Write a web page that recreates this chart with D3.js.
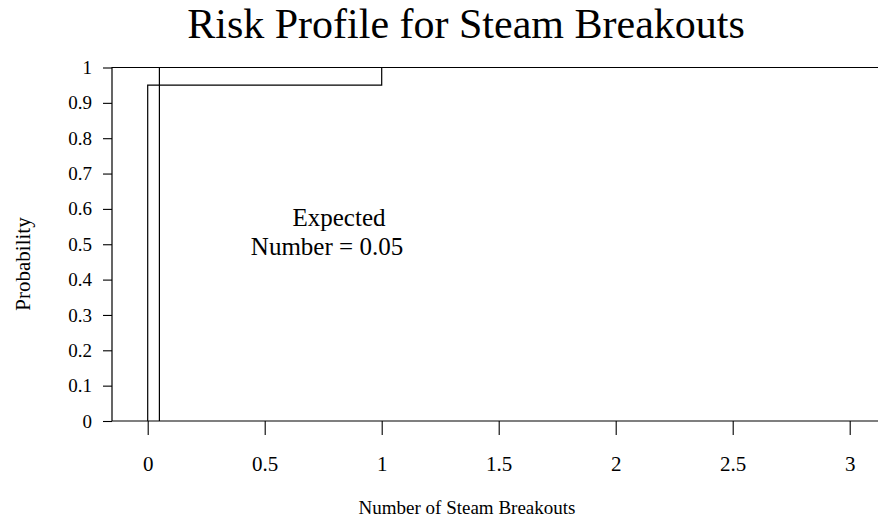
<!DOCTYPE html>
<html><head><meta charset="utf-8">
<script src="https://cdn.jsdelivr.net/npm/d3@7"></script>
<style>
html,body{margin:0;padding:0;background:#fff;}
text{font-family:"Liberation Serif","Times New Roman",serif;fill:#000;}
</style></head>
<body><svg id="c" width="878" height="519"></svg>
<script>
const title = "Risk Profile for Steam Breakouts";
const xLabel = "Number of Steam Breakouts";
const yLabel = "Probability";
const xTicks = [0, 0.5, 1, 1.5, 2, 2.5, 3];
const yTicks = [0, 0.1, 0.2, 0.3, 0.4, 0.5, 0.6, 0.7, 0.8, 0.9, 1];
// cumulative risk profile (step): breakouts, cumulative probability
const stepX = [0, 0, 1, 1, 3.2];
const stepY = [0, 0.95, 0.95, 1, 1];
const expectedValue = 0.05;
const annotation = ["Expected", "Number = 0.05"];

const svg = d3.select("#c");
const x = d3.scaleLinear().domain([0, 3]).range([147.7, 849.7]);
const y = d3.scaleLinear().domain([0, 1]).range([421, 67.5]);
const xMin = x.invert(112), xMax = 3.3;

svg.append("text").attr("x", 466).attr("y", 38).attr("text-anchor", "middle")
  .style("font-size", "42px").text(title);

const g = svg.append("g");
// frame: left, top and bottom
g.append("path")
  .attr("d", `M${x(xMax)},${y(1)}H${x(xMin)}V${y(0)}H${x(xMax)}`)
  .attr("fill", "none").attr("stroke", "#000").attr("stroke-width", 1.2);

// y axis
const yAx = g.append("g").attr("transform", `translate(${x(xMin)},0)`)
  .call(d3.axisLeft(y).tickValues(yTicks).tickSize(9).tickPadding(11)
        .tickFormat(d => d3.format("~g")(d)));
yAx.select(".domain").remove();
yAx.selectAll("line").attr("stroke-width", 1.1);
yAx.selectAll("text").style("font-size", "19px").style("font-family", "Liberation Serif");

// x axis
const xAx = g.append("g").attr("transform", `translate(0,${y(0)})`)
  .call(d3.axisBottom(x).tickValues(xTicks).tickSize(14).tickPadding(21)
        .tickFormat(d => d3.format("~g")(d)));
xAx.select(".domain").remove();
xAx.selectAll("line").attr("stroke-width", 1.1);
xAx.selectAll("text").style("font-size", "21px").style("font-family", "Liberation Serif");

// step line
const pts = stepX.map((v, i) => [x(v), y(stepY[i])]);
g.append("path").attr("d", d3.line()(pts)).attr("fill", "none")
  .attr("stroke", "#000").attr("stroke-width", 1.2);

// expected value line
g.append("line").attr("x1", x(expectedValue)).attr("x2", x(expectedValue))
  .attr("y1", y(0)).attr("y2", y(1)).attr("stroke", "#000").attr("stroke-width", 1.2);

// annotation
const annX = [339, 327];
annotation.forEach((t, i) => svg.append("text").attr("text-anchor", "middle")
  .style("font-size", "25px").attr("x", annX[i]).attr("y", 226 + i * 29).text(t));

svg.append("text").attr("x", 467).attr("y", 514).attr("text-anchor", "middle")
  .style("font-size", "19px").text(xLabel);
svg.append("text").attr("transform", "translate(30,264) rotate(-90)")
  .attr("text-anchor", "middle").style("font-size", "21px").text(yLabel);
</script></body></html>
